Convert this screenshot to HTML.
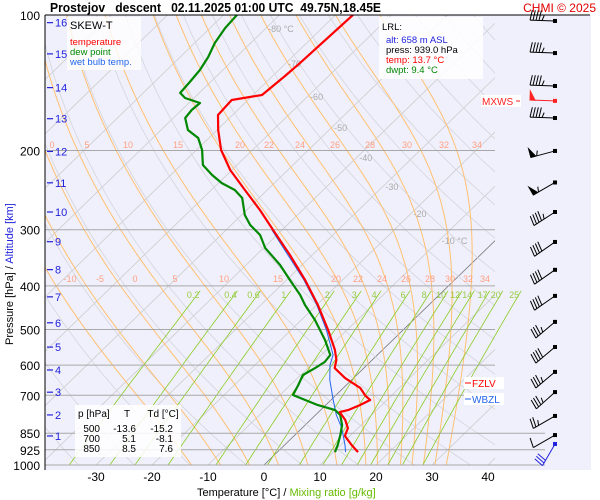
<!DOCTYPE html>
<html><head><meta charset="utf-8"><style>
body{margin:0;background:#fff;}
svg{display:block;font-family:"Liberation Sans",sans-serif;}
</style></head><body>
<svg id="chart" width="600" height="500" viewBox="0 0 600 500" xmlns="http://www.w3.org/2000/svg">
<defs><clipPath id="clip"><rect x="45" y="15" width="450" height="450"/></clipPath>
<clipPath id="clip2"><rect x="45" y="15" width="500" height="450"/></clipPath></defs>
<rect x="45" y="15" width="546" height="455" fill="#f0f0fc"/>
<g id="grid" clip-path="url(#clip)"></g>
<g id="grid2" clip-path="url(#clip2)"></g>
<g id="isobars"></g>
<g id="labels"></g>
<g id="profiles" clip-path="url(#clip)"></g>
<g id="winds"></g>
<line x1="45" y1="15" x2="590" y2="15" stroke="#000" stroke-width="1"/>
<line x1="45" y1="15" x2="45" y2="470" stroke="#000" stroke-width="1"/>
<text x="50" y="12" font-size="13" font-weight="bold" textLength="331" lengthAdjust="spacingAndGlyphs" xml:space="preserve">Prostejov   descent   02.11.2025 01:00 UTC  49.75N,18.45E</text>
<text x="596" y="12" font-size="12" fill="#e00000" text-anchor="end">CHMI © 2025</text>
<g>
<rect x="67" y="17" width="74" height="53" fill="#fff" opacity="0.8"/>
<text x="70" y="29" font-size="11">SKEW-T</text>
<text x="70" y="45" font-size="9.5" fill="#f00">temperature</text>
<text x="70" y="55" font-size="9.5" fill="#080">dew point</text>
<text x="70" y="65" font-size="9.5" fill="#2266ee">wet bulb temp.</text>
</g>
<g font-size="9.5">
<rect x="379" y="17" width="104" height="62" fill="#fff" opacity="0.85"/>
<text x="382" y="30">LRL:</text>
<text x="386" y="43" fill="#22d">alt: 658 m ASL</text>
<text x="386" y="53">press: 939.0 hPa</text>
<text x="386" y="63" fill="#f00">temp: 13.7 °C</text>
<text x="386" y="73" fill="#080">dwpt: 9.4 °C</text>
</g>
<g font-size="10">
<rect x="75" y="405" width="106" height="52" fill="#fff" opacity="0.85"/>
<text x="78" y="417">p [hPa]</text><text x="127" y="417" text-anchor="middle">T</text><text x="163" y="417" text-anchor="middle">Td [°C]</text>
<text x="100" y="432" text-anchor="end">500</text><text x="136" y="432" text-anchor="end">-13.6</text><text x="173" y="432" text-anchor="end">-15.2</text>
<text x="100" y="442" text-anchor="end">700</text><text x="136" y="442" text-anchor="end">5.1</text><text x="173" y="442" text-anchor="end">-8.1</text>
<text x="100" y="452" text-anchor="end">850</text><text x="136" y="452" text-anchor="end">8.5</text><text x="173" y="452" text-anchor="end">7.6</text>
</g>
<g font-size="10">
<rect x="464" y="377" width="40" height="12" fill="#fff"/>
<line x1="465" y1="383" x2="471" y2="383" stroke="#f00"/><text x="472" y="387" fill="#f00">FZLV</text>
<rect x="464" y="393" width="40" height="12" fill="#fff"/>
<line x1="465" y1="399" x2="471" y2="399" stroke="#2266ee"/><text x="472" y="403" fill="#2266ee">WBZL</text>
<rect x="481" y="95" width="40" height="12" fill="#fff"/>
<text x="482" y="105" fill="#f22">MXWS</text><line x1="516" y1="101" x2="520" y2="101" stroke="#f22"/>
</g>
<text x="197" y="496" font-size="11">Temperature [°C]  /  <tspan fill="#66bb00">Mixing ratio [g/kg]</tspan></text>
<text transform="translate(13,345) rotate(-90)" font-size="11">Pressure [hPa]  /  <tspan fill="#22d">Altitude [km]</tspan></text>
<script>
const tempP=[100,127.8,136.6,150.6,154.5,166.8,180.1,199.5,221,244.8,271.4,300.5,341.4,388,441,501,555,584,609,641,674,703,717,736,755,763,794,828,862,903,936];
const tempT=[-66.9,-67.5,-67.8,-68.4,-72.9,-72.6,-69.8,-65.6,-60.3,-54.0,-47.6,-41.6,-34.0,-26.7,-19.8,-13.4,-8.5,-6.4,-5.2,-1.5,3.0,5.5,7.0,6.1,4.9,3.8,6.2,8.2,9.1,12.0,14.4];
const dewP=[100,106.9,115.4,124,132.5,140.9,149,152.9,156.9,162.6,169.4,180.1,187.6,199.5,215.4,226.8,236.3,244.8,255.1,278.3,292.9,308.3,329.5,359.4,388,419,441,476,527.5,569.5,590.3,609,631,664,699,717,736,755,774,815,857,903,936];
const dewT=[-87.6,-87.3,-86.4,-85.0,-84.1,-83.7,-83.4,-81.6,-78.0,-78.2,-77.9,-75.2,-71.9,-69.0,-66.1,-62.6,-59.4,-55.8,-53.0,-49.4,-46.6,-43.0,-39.7,-33.9,-29.4,-24.8,-22.1,-17.6,-12.1,-8.4,-8.1,-8.7,-9.6,-8.6,-7.7,-4.6,-1.4,2.6,4.4,6.6,8.1,9.5,10.3];
const wbP=[300.5,388,441,501,569.5,599.6,647,717,774,828,903,936];
const wbT=[-41.8,-26.9,-20.0,-13.7,-7.9,-6.6,-3.9,0.4,3.7,7.1,10.8,12.2];
const isobarLevels=[200,300,400,500,600,700,850,925,1000];
const pressureLabels=[100,200,300,400,500,600,700,850,925,1000];
const tempTicks=[-30,-20,-10,0,10,20,30,40];
const altKm=[1,2,3,4,5,6,7,8,9,10,11,12,13,14,15,16];
const altP=[862,774,689,615,547,483,423,368,319,274,236,201,170,145,122,104];
const thetaW=[-10,-5,0,5,10,15,20,22,24,26,28,30,32,34];
const label400=[["-10",70],["-5",100],["0",135],["5",175],["10",224],["15",278],["20",336],["22",358],["24",382],["26",406],["28",430],["30",450],["32",468],["34",485]];
const label200=[["0",52],["5",87],["10",128],["15",178],["20",240],["22",269],["24",300],["26",335],["28",370],["30",407],["32",444],["34",477]];
const mixRatios=[0.2,0.4,0.6,1,2,3,4,6,8,10,12,14,17,20,25];
const windP=[103.1,121.5,143.8,155.2,169.4,200.5,235.6,274,319.4,368.4,420.9,480.8,546.8,621,688.6,778,858,898];
const windDir=[272,272,272,272,272,255,240,237,235,235,235,230,230,230,228,240,240,210];
const windSpd=[45,45,45,50,45,55,55,45,40,40,40,35,40,35,35,25,10,30];

const NS="http://www.w3.org/2000/svg";
function Y(p){return 15+450*Math.log10(p/100);}
function X(T,p){return 264+5.6*T+(465-Y(p))*1.03;}
function mk(parent,tag,attrs){const e=document.createElementNS(NS,tag);for(const k in attrs)e.setAttribute(k,attrs[k]);(typeof parent==='string'?document.getElementById(parent):parent).appendChild(e);return e;}
function pathFrom(ts,ps){return ts.map((t,i)=>(i?'L':'M')+X(t,ps[i]).toFixed(1)+','+Y(ps[i]).toFixed(1)).join('');}

for(let T=-110;T<=50;T+=10){
 const e=mk('grid','line',{x1:X(T,1000),y1:Y(1000),x2:X(T,100),y2:Y(100),stroke:T===0?'#777':'#ccc','stroke-width':0.8});
 
 
}
for(let th=240;th<=480;th+=10){
 const ts=[],ps=[];for(let p=1050;p>=100;p-=10){ps.push(p);ts.push(th*Math.pow(p/1000,0.286)-273.15);}
 const e=mk('grid','path',{d:pathFrom(ts,ps),fill:'none',stroke:'#d4d4dc','stroke-width':0.8});
 
 
}
function es(Tc){return 6.112*Math.exp(17.67*Tc/(Tc+243.5));}
thetaW.forEach(tw=>{
 let T=tw+273.15;const ts=[],ps=[];
 for(let p=1050;p>=100;p-=2){
  ps.push(p);ts.push(T-273.15);
  const e=es(T-273.15),rs=0.622*e/(p-e);
  const dTdp=(287*T+2.5e6*rs)/(p*(1004+2.5e6*2.5e6*rs*0.622/(287*T*T)));
  T-=dTdp*2;
 }
 const e=mk('grid','path',{d:pathFrom(ts,ps),fill:'none',stroke:'#ffc070','stroke-width':1});
 
 
});
mixRatios.forEach(w=>{
 const ts=[],ps=[];
 for(let p=1050;p>=408;p-=10){const e=w*p/(622+w);const l=Math.log(e/6.112);ps.push(p);ts.push(243.5*l/(17.67-l));}
 const e=mk('grid2','path',{d:pathFrom(ts,ps),fill:'none',stroke:'#88cc22','stroke-width':0.8});
 
 
 const t=mk('labels','text',{x:X(ts[ts.length-1],408)-8,y:298,'font-size':9,fill:'#99cc44','text-anchor':'middle'});
 t.textContent=w;
 
 
});
[[label400,282],[label200,148]].forEach(([arr,y])=>arr.forEach(([s,x])=>{
 const t=mk('labels','text',{x:x,y:y,'font-size':9,fill:'#ffa080','text-anchor':'middle'});
 t.textContent=s;
 
 
}));
[[-80,28,' °C'],[-70,63,''],[-60,96,''],[-50,127,''],[-40,157,''],[-30,186,''],[-20,213,''],[-10,240,' °C']].forEach(([T,y,s])=>{
 const p=100*Math.pow(10,(y-15)/450);
 const t=mk('labels','text',{x:X(T,p)+2,y:y+4,'font-size':9,fill:'#aaa'});
 t.textContent=T+s;
 
 
});
isobarLevels.forEach(p=>{
 const e=mk('isobars','line',{x1:45,x2:p>=850?545:495,y1:Y(p),y2:Y(p),stroke:'#a8a8a8','stroke-width':1});
 
 
});
pressureLabels.forEach(p=>{
 const t=mk('labels','text',{x:40,y:Y(p)+5,'font-size':12,'text-anchor':'end'});
 t.textContent=p;
 
 
});
tempTicks.forEach(T=>{
 const t=mk('labels','text',{x:X(T,1000),y:481,'font-size':12,'text-anchor':'middle'});
 t.textContent=T;
 
 
});
altKm.forEach((k,i)=>{
 const y=Y(altP[i]);
 const l=mk('labels','line',{x1:47,x2:53,y1:y,y2:y,stroke:'#22d','stroke-width':1.2});
 
 
 const t=mk('labels','text',{x:55,y:y+4,'font-size':11,fill:'#22d'});
 t.textContent=k;
 
 
});
const wb=mk('profiles','path',{d:pathFrom(wbT,wbP),fill:'none',stroke:'#2266ee','stroke-width':1});


const dp=mk('profiles','path',{d:pathFrom(dewT,dewP),fill:'none',stroke:'#008800','stroke-width':2.2,'stroke-linejoin':'round'});


const tp=mk('profiles','path',{d:pathFrom(tempT,tempP),fill:'none',stroke:'#ff0000','stroke-width':2.2,'stroke-linejoin':'round'});


windP.forEach((p,i)=>{
 const y=Y(p),x0=555,L=25,a=windDir[i]*Math.PI/180;
 const dx=Math.sin(a),dy=-Math.cos(a);
 const col=(i===3)?'#f22':(i===windP.length-1?'#22d':'#000');
 const g=mk('winds','g',{stroke:col,fill:col,'stroke-width':1});
 
 
 const xe=x0+dx*L,ye=y+dy*L;
 mk(g,'line',{x1:x0,y1:y,x2:xe,y2:ye});
 mk(g,'rect',{x:x0-2,y:y-2,width:4,height:4,stroke:'none'});
 const bx=-dy,by=dx;
 let s=windSpd[i],pos=0;
 const add=(len,isFlag)=>{
  const px=xe-dx*pos*3,py=ye-dy*pos*3;
  if(isFlag){mk(g,'polygon',{points:`${px},${py} ${px+bx*9},${py+by*9} ${px-dx*5},${py-dy*5}`});pos+=2;}
  else{mk(g,'line',{x1:px,y1:py,x2:px+bx*len-dx*2,y2:py+by*len-dy*2});pos+=1;}
 };
 while(s>=50){add(0,true);s-=50;}
 while(s>=10){add(10,false);s-=10;}
 if(s>=5){if(pos===0)pos=1;add(5,false);}
});
</script>
</svg>
</body></html>
